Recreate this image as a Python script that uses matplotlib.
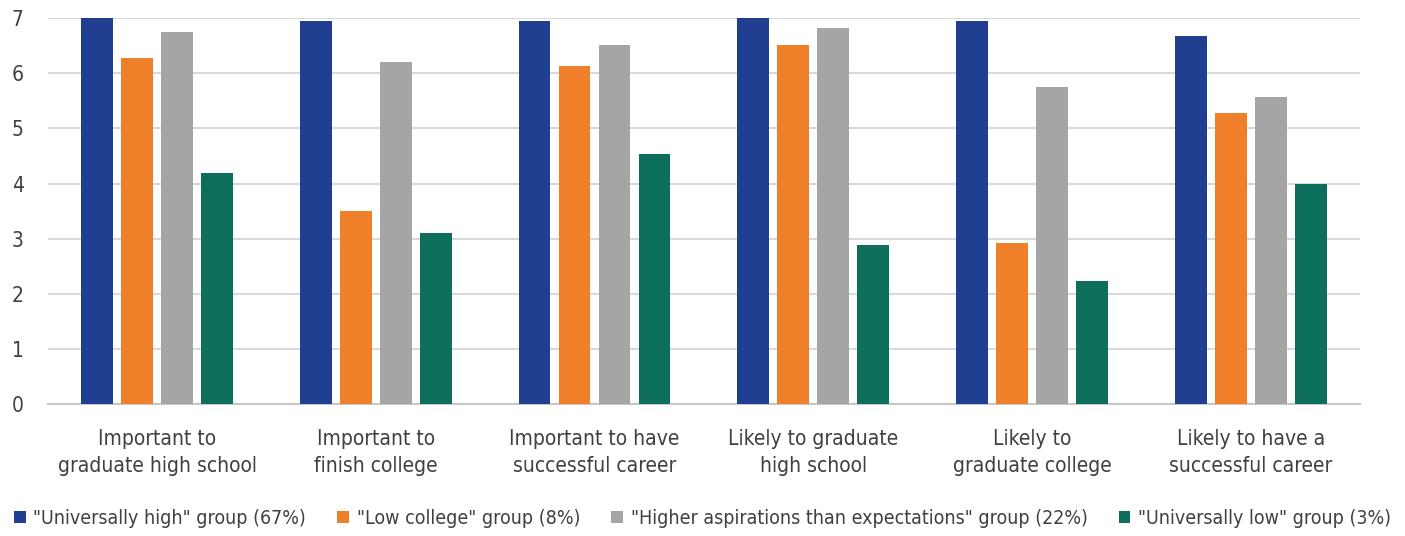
import numpy as np
import matplotlib
matplotlib.use('Agg')
import matplotlib.pyplot as plt

plt.rcParams['font.family'] = ['Liberation Sans Narrow', 'DejaVu Sans']
plt.rcParams['font.stretch'] = 'condensed'

categories = ['Important to\ngraduate high school', 'Important to\nfinish college',
              'Important to have\nsuccessful career', 'Likely to graduate\nhigh school',
              'Likely to\ngraduate college', 'Likely to have a\nsuccessful career']
series_names = ['"Universally high" group (67%)', '"Low college" group (8%)',
                '"Higher aspirations than expectations" group (22%)',
                '"Universally low" group (3%)']
univ_high = [7.0, 6.95, 6.95, 7.0, 6.95, 6.68]
low_college = [6.28, 3.5, 6.13, 6.52, 2.92, 5.28]
higher_asp = [6.75, 6.2, 6.52, 6.82, 5.75, 5.57]
univ_low = [4.19, 3.1, 4.54, 2.89, 2.23, 3.99]
colors = ['#203f91', '#f07f2a', '#a5a5a5', '#0e6e5c']

F = plt.figure(figsize=(14.05, 5.36), dpi=100)
ax = F.add_axes([0.034, 0.246, 0.934, 0.72])

x = np.arange(len(categories))
width = 0.145
step = 0.183
data = [univ_high, low_college, higher_asp, univ_low]
for i, (vals, c, name) in enumerate(zip(data, colors, series_names)):
    ax.bar(x + (i - 1.5) * step, vals, width, color=c, label=name, zorder=3)

ax.set_xlim(-0.5, len(categories) - 0.5)
ax.set_ylim(0, 7)
ax.set_yticks(range(8))
ax.yaxis.grid(True, color='#d9d9d9', linewidth=1.5, zorder=0)
for s in ['top', 'right', 'left']:
    ax.spines[s].set_visible(False)
ax.spines['bottom'].set_color('#c8c8c8')
ax.spines['bottom'].set_linewidth(1.5)
ax.tick_params(axis='both', length=0, labelsize=15, colors='#404040')
ax.tick_params(axis='y', pad=26)
ax.set_xticks(x)
ax.set_xticklabels(categories, fontsize=15, color='#404040', linespacing=1.45)
ax.tick_params(axis='x', pad=18)
for lbl in ax.get_yticklabels():
    lbl.set_horizontalalignment('left')

handles, labels = ax.get_legend_handles_labels()
F.legend(handles, labels, loc='lower center', bbox_to_anchor=(0.5, -0.018), ncol=4,
         frameon=False, fontsize=14, handlelength=0.6, handleheight=0.6,
         handletextpad=0.4, columnspacing=1.6, labelcolor='#404040')

plt.savefig('out.png')
